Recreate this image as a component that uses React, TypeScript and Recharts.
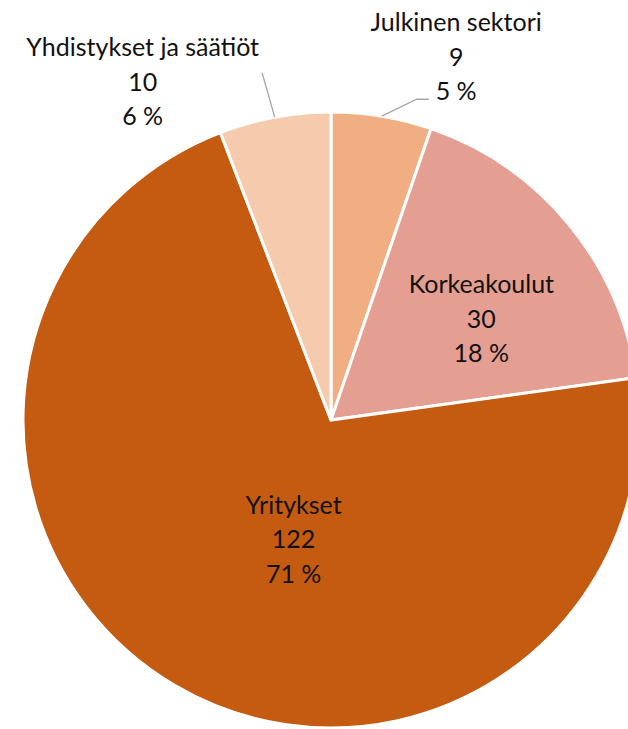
import { PieChart, Pie, Cell } from "recharts";

const categories = ["Julkinen sektori", "Korkeakoulut", "Yritykset", "Yhdistykset ja säätiöt"];
const counts = [9, 30, 122, 10];
const percentLabels = ["5 %", "18 %", "71 %", "6 %"];
const colors = ["#F0AE82", "#E59E92", "#C55A11", "#F6CAAC"];

// label placement relative to each slice: radius (share of outer radius), angle shift (deg),
// and for outside labels the leader line end (extra radius, angle shift, horizontal tail)
const labelLayout = [
  { r: 1.25, shift: -9.5, outside: true, lineR: 24, lineShift: -5.5, tail: 12 },
  { r: 0.59, shift: -5.3, outside: false, lineR: 0, lineShift: 0, tail: 0 },
  { r: 0.403, shift: 13, outside: false, lineR: 0, lineShift: 0, tail: 0 },
  { r: 1.26, shift: 18.5, outside: true, lineR: 46, lineShift: 0.7, tail: 0 },
];

const data = categories.map((name, i) => ({ name, value: counts[i], pct: percentLabels[i] }));

const RAD = Math.PI / 180;
const FONT = "Lato, 'Noto Sans', sans-serif";
const LINE_GAP = 34.5;

function renderLabel(props: any) {
  const { cx, cy, midAngle, outerRadius, index } = props;
  const lay = labelLayout[index];
  const a = midAngle + lay.shift;
  const r = outerRadius * lay.r;
  const x = cx + r * Math.cos(a * RAD);
  const y = cy - r * Math.sin(a * RAD);
  const d = data[index];

  let line = null;
  if (lay.outside) {
    const sx = cx + outerRadius * Math.cos(midAngle * RAD);
    const sy = cy - outerRadius * Math.sin(midAngle * RAD);
    const ea = (midAngle + lay.lineShift) * RAD;
    const ex = cx + (outerRadius + lay.lineR) * Math.cos(ea);
    const ey = cy - (outerRadius + lay.lineR) * Math.sin(ea);
    const pts = `${sx},${sy} ${ex},${ey}` + (lay.tail ? ` ${ex + lay.tail},${ey}` : "");
    line = <polyline points={pts} fill="none" stroke="#A6A6A6" strokeWidth={1.3} />;
  }

  return (
    <g key={`lbl-${index}`}>
      {line}
      <text x={x} y={y - LINE_GAP} textAnchor="middle" dominantBaseline="central" fill="#111" fontSize={25} fontFamily={FONT}>
        <tspan x={x} dy={0}>{d.name}</tspan>
        <tspan x={x} dy={LINE_GAP}>{d.value}</tspan>
        <tspan x={x} dy={LINE_GAP}>{d.pct}</tspan>
      </text>
    </g>
  );
}

export default function App() {
  return (
    <div style={{ position: "absolute", left: 0, top: 0, width: 628, height: 729, background: "#fff" }}>
      <PieChart width={628} height={729} margin={{ top: 0, right: 0, bottom: 0, left: 0 }}>
        <Pie
          data={data}
          dataKey="value"
          nameKey="name"
          cx={331}
          cy={420}
          outerRadius={308}
          startAngle={90}
          endAngle={-270}
          stroke="#fff"
          strokeWidth={3}
          label={renderLabel}
          labelLine={false}
          isAnimationActive={false}
        >
          {data.map((d, i) => (
            <Cell key={d.name} fill={colors[i]} />
          ))}
        </Pie>
      </PieChart>
    </div>
  );
}
